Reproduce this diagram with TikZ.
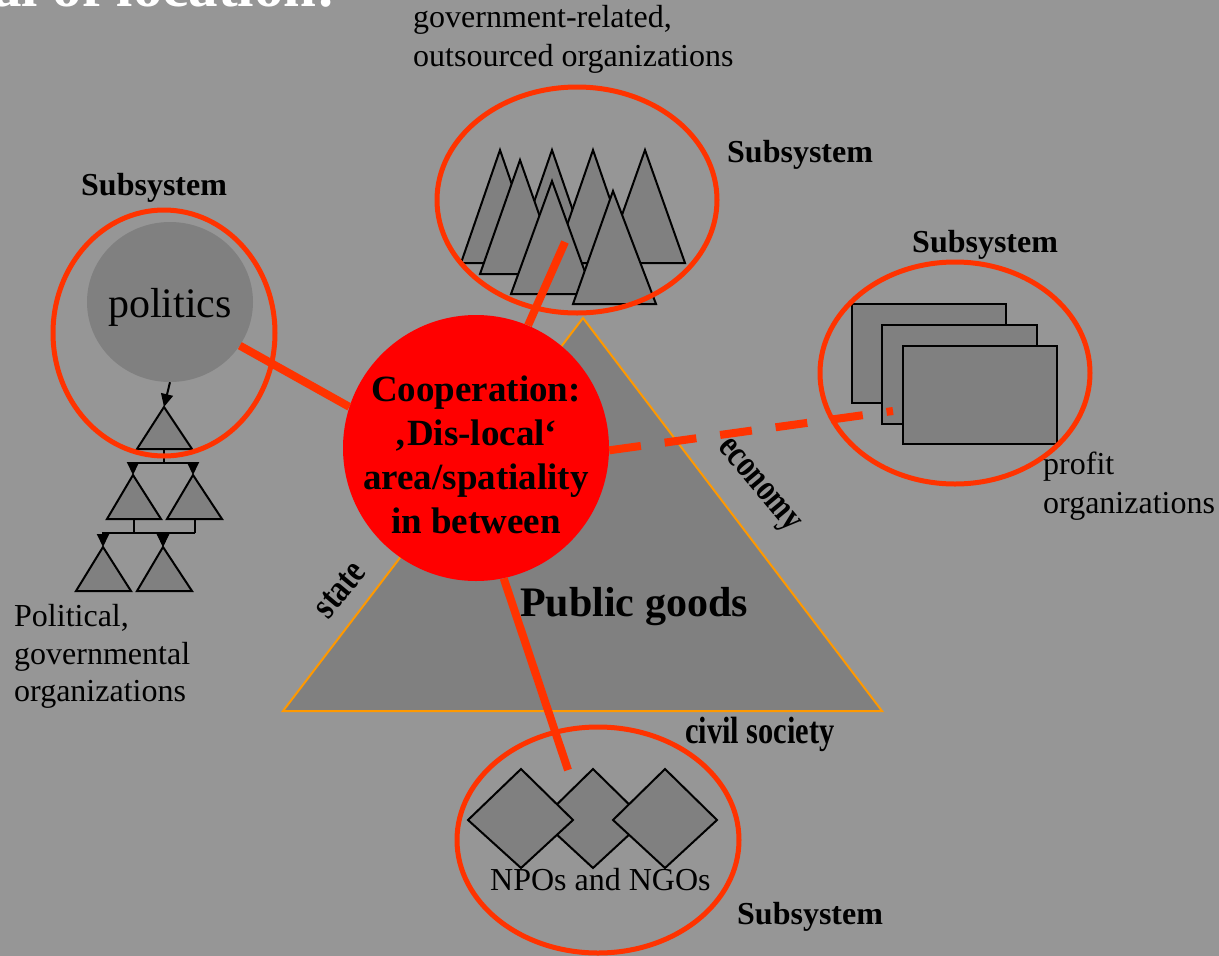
\documentclass[tikz,border=0pt]{standalone}
\usepackage{fontspec}
\setmainfont{Liberation Serif}
\usetikzlibrary{arrows.meta,shapes.geometric}
\definecolor{bg}{RGB}{150,150,150}
\definecolor{shapegray}{RGB}{128,128,128}
\definecolor{linkred}{RGB}{255,51,0}
\definecolor{triorange}{RGB}{255,153,0}
\definecolor{corered}{RGB}{255,0,0}
\begin{document}
\begin{tikzpicture}[x=1pt,y=-1pt,
  subsys/.style={draw=linkred,line width=5pt,ellipse,inner sep=0pt},
  shp/.style={fill=shapegray,draw=black,line width=2pt,line join=miter},
  link/.style={draw=linkred,line width=8pt},
  hline/.style={draw=black,line width=2pt},
  harrow/.style={draw=black,line width=2pt,-{Triangle[length=13pt,width=12pt]}},
  txt/.style={font=\fontsize{32}{38}\selectfont,inner sep=0pt,anchor=base west},
  sub/.style={font=\fontsize{32}{38}\selectfont\bfseries,inner sep=0pt,anchor=base west},
  side/.style={font=\fontsize{38}{42}\selectfont\bfseries,inner sep=0pt},
]
\useasboundingbox (0,0) rectangle (1219,956);
\clip (0,0) rectangle (1219,956);
\fill[bg] (0,0) rectangle (1219,956);

% clipped title
\node[anchor=base west,inner sep=0pt,text=white,font=\fontsize{59}{64}\selectfont\bfseries] (title) at (-8,6) {al of location:};

% big triangle
\draw[fill=shapegray,draw=triorange,line width=2pt] (583,318) -- (283,711) -- (882,711) -- cycle;

% top triangles (government-related organizations)
\draw[shp] (645,150) -- (605,263) -- (685,263) -- cycle;
\draw[shp] (500,150) -- (461,263) -- (539,263) -- cycle;
\draw[shp] (552,150) -- (513,263) -- (591,263) -- cycle;
\draw[shp] (593,150) -- (554,263) -- (632,263) -- cycle;
\draw[shp] (520,160) -- (480,274) -- (560,274) -- cycle;
\draw[shp] (552,181) -- (511,294) -- (593,294) -- cycle;
\draw[shp] (613,191) -- (573,304) -- (656,304) -- cycle;

% rectangles (profit organizations)
\draw[shp] (852,304) rectangle (1006,403);
\draw[shp] (882,325) rectangle (1037,424);
\draw[shp] (903,346) rectangle (1057,444);

% diamonds (NPOs and NGOs)
\draw[shp] (593,769) -- (645,820) -- (593,868) -- (541,820) -- cycle;
\draw[shp] (521,769) -- (573,820) -- (521,868) -- (468,820) -- cycle;
\draw[shp] (665,769) -- (717,820) -- (665,868) -- (613,820) -- cycle;

% politics
\node[ellipse,fill=shapegray,minimum width=166pt,minimum height=160pt,inner sep=0pt] (pol) at (170,302) {};
\node[font=\fontsize{42}{48}\selectfont,inner sep=0pt,anchor=base] (poltext) at (170,317) {politics};

% hierarchy
\coordinate (Aapex) at (164,407); \coordinate (Abase) at (164,449);
\coordinate (Bapex) at (133,475); \coordinate (Bbase) at (134,519);
\coordinate (Capex) at (193,475); \coordinate (Cbase) at (195,519);
\coordinate (Dapex) at (103,547);
\coordinate (Eapex) at (163,547);
\draw[shp] (Aapex) -- (137,449) -- (192,449) -- cycle;
\draw[shp] (Bapex) -- (107,519) -- (161,519) -- cycle;
\draw[shp] (Capex) -- (167,519) -- (222,519) -- cycle;
\draw[shp] (Dapex) -- (76,591) -- (131,591) -- cycle;
\draw[shp] (Eapex) -- (137,591) -- (192,591) -- cycle;
\draw[harrow] (pol.south) -- (Aapex);
\coordinate (Asplit) at (164,463);
\coordinate (Bsplit) at (134,533);
\coordinate (Csplit) at (195,533);
\draw[hline] (Abase) -- (Asplit);
\draw[harrow] (Asplit) -| (Bapex);
\draw[harrow] (Asplit) -| (Capex);
\draw[hline] (Bbase) -- (Bsplit);
\draw[hline] (Cbase) -- (Csplit);
\draw[harrow] (Bsplit) -| (Dapex);
\draw[harrow] (Bsplit) -| (Eapex);
\draw[harrow] (Csplit) -| (Eapex);

% subsystem ellipses
\node[subsys,minimum width=222pt,minimum height=246pt] (ellL) at (164,333) {};
\node[subsys,minimum width=280pt,minimum height=226pt] (ellT) at (577,200) {};
\node[subsys,minimum width=270pt,minimum height=222pt] (ellR) at (955,373) {};
\node[subsys,minimum width=282pt,minimum height=226pt] (ellB) at (598,840) {};

% central cooperation circle
\node[circle,fill=corered,minimum size=266pt,inner sep=0pt] (coop) at (476,448) {};
\node[inner sep=0pt,align=center,font=\fontsize{37}{44}\selectfont\bfseries] (cooptext) at (476,455)
  {Cooperation:\\‚Dis-local‘\\area/spatiality\\in between};

% connectors
\coordinate (topend) at (565,242);
\coordinate (botend) at (568,770);
\coordinate (dashend) at (893,411);
\draw[link] (pol.-32) -- (coop.162);
\draw[link] (coop.67) -- (topend);
\draw[link] (coop.-78) -- (botend);
\draw[link,dash pattern=on 32pt off 24pt] (coop.-1) -- (dashend);

% labels
\node[txt] (gov1) at (413,27) {government-related,};
\node[txt] (gov2) at (413,66) {outsourced organizations};
\node[sub] (subT) at (727,162) {Subsystem};
\node[sub] (subL) at (81,195) {Subsystem};
\node[sub] (subR) at (912,252) {Subsystem};
\node[sub] (subB) at (737,924) {Subsystem};
\node[txt] (pol1) at (14,626) {Political,};
\node[txt] (pol2) at (14,664) {governmental};
\node[txt] (pol3) at (14,701) {organizations};
\node[txt] (prof1) at (1043,474) {profit};
\node[txt] (prof2) at (1043,513) {organizations};
\node[font=\fontsize{42}{48}\selectfont\bfseries,inner sep=0pt,anchor=base west] (pg) at (520,616) {Public goods};
\node[txt] (npo) at (490,890) {NPOs and NGOs};
\node[side,anchor=base] (civ) at (760,743) {\scalebox{0.8}[1]{civil society}};
\node[side,rotate=-50] (eco) at (757,487) {\scalebox{0.78}[1]{economy}};
\node[side,rotate=50] (sta) at (340,590) {\scalebox{0.8}[1]{state}};
\end{tikzpicture}
\end{document}
